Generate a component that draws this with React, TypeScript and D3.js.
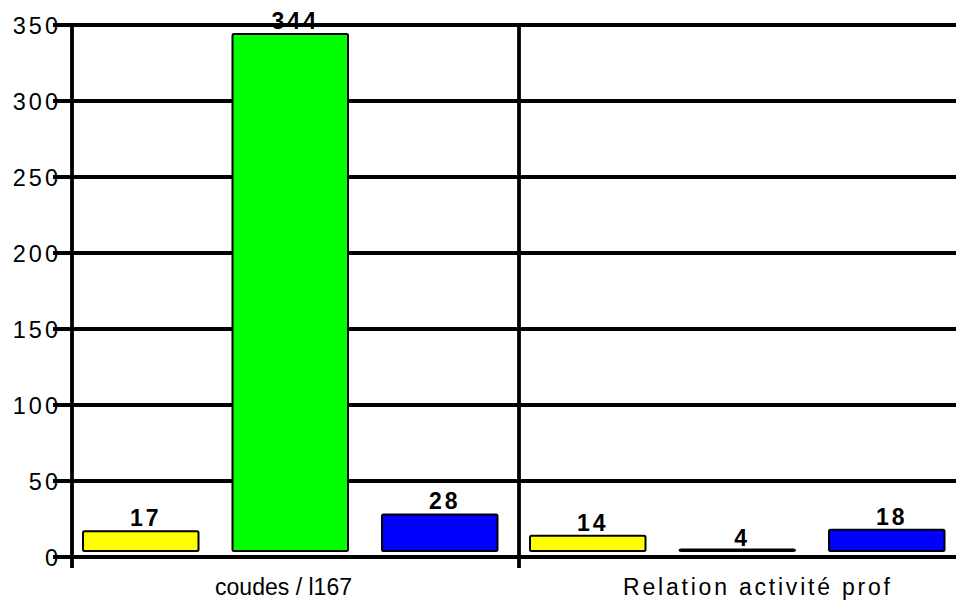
import React from "react";
import * as d3 from "d3";

const categories = ["coudes / l167", "Relation activité prof"];
const seriesNames = ["s1", "s2", "s3"];
const series1 = [17, 14];
const series2 = [344, 4];
const series3 = [28, 18];
const seriesColors = ["#FFFF00", "#00FF00", "#0000FF"];
const yTicks = [0, 50, 100, 150, 200, 250, 300, 350];
const baseValue = 4;

const W = 956;
const H = 603;
const FONT = "'Liberation Sans', Arial, sans-serif";

export default function App() {
  const allSeries = [series1, series2, series3];
  const y = d3.scaleLinear().domain([0, 350]).range([557, 25]);
  const xGroup = d3.scaleBand<string>().domain(categories).range([72, 966]);
  const xInner = d3
    .scaleBand<string>()
    .domain(seriesNames)
    .range([11, 11 + 149.5 * 3 - 34])
    .paddingInner(34 / 149.5)
    .paddingOuter(0);

  const labelCfg = [
    { cx: 283.5, len: 137 },
    { cx: 756.5, len: 267 },
  ];

  return (
    <svg
      width={W}
      height={H}
      style={{ position: "fixed", left: 0, top: 0, background: "#fff" }}
      fontFamily={FONT}
    >
      <rect x={0} y={0} width={W} height={H} fill="#fff" />
      {yTicks.map((t) => (
        <line key={"g" + t} x1={53} x2={W} y1={y(t)} y2={y(t)} stroke="#000" strokeWidth={3.8} />
      ))}
      <line x1={72} x2={72} y1={y(350)} y2={568} stroke="#000" strokeWidth={3.8} />
      {categories.slice(1).map((c) => (
        <line
          key={"d" + c}
          x1={xGroup(c)!}
          x2={xGroup(c)!}
          y1={y(350)}
          y2={568}
          stroke="#000"
          strokeWidth={3.8}
        />
      ))}
      {yTicks.map((t) => (
        <text
          key={"t" + t}
          x={61}
          y={y(t) + 8.5}
          fontSize={23.5}
          letterSpacing={3}
          textAnchor="end"
          fill="#000"
        >
          {t}
        </text>
      ))}
      {categories.map((c, ci) =>
        allSeries.map((s, si) => {
          const v = s[ci];
          const x0 = xGroup(c)! + xInner(seriesNames[si])!;
          const bw = xInner.bandwidth();
          const top = y(v);
          const h = Math.max(y(baseValue) - top, 1.5);
          return (
            <g key={c + si}>
              <rect
                x={x0}
                y={y(baseValue) - h}
                width={bw}
                height={h}
                fill={seriesColors[si]}
                stroke="#000"
                strokeWidth={2}
                rx={1.5}
              />
              <text
                x={x0 + bw / 2 + 5}
                y={top - 5}
                fontSize={23}
                fontWeight="bold"
                letterSpacing={3}
                textAnchor="middle"
                fill="#000"
              >
                {v}
              </text>
            </g>
          );
        })
      )}
      {categories.map((c, i) => (
        <text
          key={"c" + c}
          x={labelCfg[i].cx - labelCfg[i].len / 2}
          y={595}
          fontSize={23}
          textLength={labelCfg[i].len}
          lengthAdjust="spacing"
          fill="#000"
        >
          {c}
        </text>
      ))}
    </svg>
  );
}
